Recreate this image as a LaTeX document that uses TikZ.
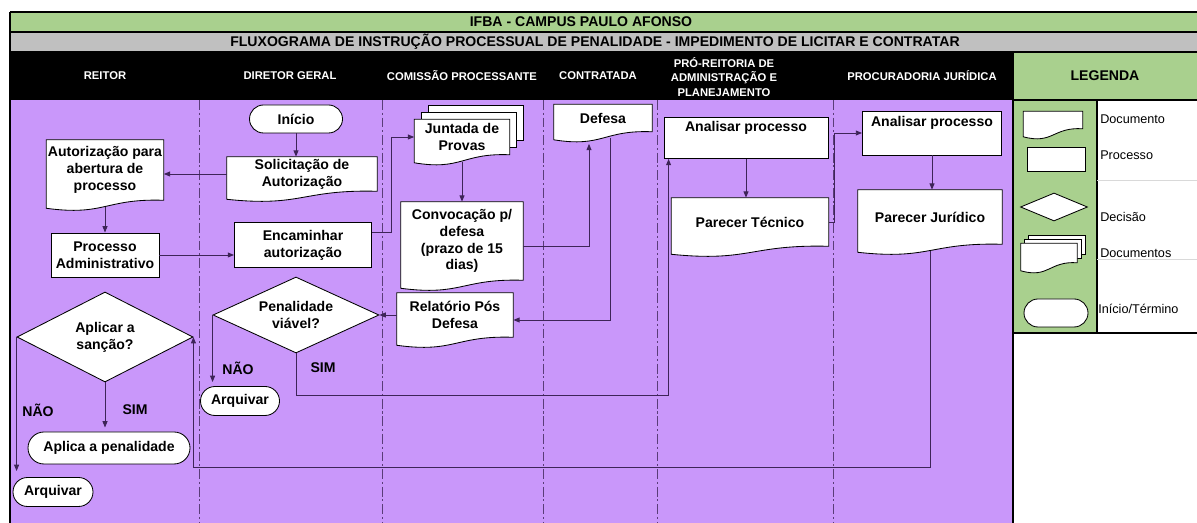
\documentclass[tikz,border=0pt]{standalone}
\usepackage{fontspec}
\setmainfont{Liberation Sans}
\usetikzlibrary{shapes.geometric,shapes.misc,arrows.meta,calc}

\definecolor{lanefill}{RGB}{201,151,250}
\definecolor{headgreen}{RGB}{169,208,142}
\definecolor{headgray}{RGB}{192,192,192}
\definecolor{flowline}{RGB}{62,36,88}
\definecolor{laneline}{RGB}{90,60,120}

\newlength\pxlen
\setlength\pxlen{0.025cm}

\pgfdeclarelayer{back}
\pgfdeclarelayer{shapes}
\pgfsetlayers{back,shapes,main}

\tikzset{
	boxline/.style={draw=black, fill=white, line width=0.6pt},
	txt/.style={font=\bfseries, align=center, inner sep=0pt},
	docbox/.style 2 args={txt, minimum width=#1*\pxlen, minimum height=#2*\pxlen},
	procbox/.style 2 args={txt, boxline, minimum width=#1*\pxlen, minimum height=#2*\pxlen},
	termbox/.style 2 args={txt, boxline, rounded rectangle, minimum width=#1*\pxlen, minimum height=#2*\pxlen},
	decbox/.style 2 args={txt, boxline, diamond, aspect=2, minimum width=#1*\pxlen, minimum height=#2*\pxlen},
	flow/.style={draw=flowline, line width=0.7pt, -{Triangle[length=4.5pt,width=3.5pt]}},
	lane/.style={draw=laneline, line width=0.7pt, dash pattern=on 7pt off 2pt on 1.5pt off 2pt},
	lanehead/.style={text=white, font=\fontsize{8}{10.5}\selectfont\bfseries, align=center},
	choice/.style={font=\bfseries},
	legtext/.style={anchor=west, font=\fontsize{9}{11}\selectfont, inner sep=0pt}
}

% document outline with wavy bottom, drawn round a node
\newcommand{\docoutline}[1]{%
	\draw[boxline] (#1.north west) -- (#1.north east) -- (#1.south east)
		.. controls ($(#1.south)+(0,-2)$) and ($(#1.south)+(0,16)$) .. ($(#1.south west)+(0,8)$) -- cycle;}
% the sheets behind a multi-document node
\newcommand{\sheets}[2]{%
	\draw[boxline] ($(#1.north west)+(2*#2,-2*#2)$) rectangle ($(#1.south east)+(2*#2,-2*#2)$);
	\draw[boxline] ($(#1.north west)+(#2,-#2)$) rectangle ($(#1.south east)+(#2,-#2)$);}

\begin{document}
\begin{tikzpicture}[x=0.025cm, y=-0.025cm]
	\useasboundingbox (0,0) rectangle (1197,523);

	\begin{pgfonlayer}{back}
		\fill[headgreen] (10,12) rectangle (1197,32);
		\fill[headgray] (10,32) rectangle (1197,52);
		\fill[black] (10,52) rectangle (1013,100);
		\fill[headgreen] (1013,52) rectangle (1197,100);
		\fill[lanefill] (10,100) rectangle (1013,523);
		\fill[headgreen] (1013,100) rectangle (1097,333);
		\foreach \x in {199,382,543,657,833}
			\draw[lane] (\x,100) -- (\x,523);
		\draw[line width=1.4pt] (10,12) -- (1197,12) (10,32) -- (1197,32) (10,52) -- (1197,52) (10,12) -- (10,523);
		\draw[line width=1.4pt] (1013,52) -- (1013,523) (1013,100) -- (1197,100) (1097,100) -- (1097,333) (1013,333) -- (1197,333);
		\draw[black!15] (1097,180) -- (1197,180) (1097,259) -- (1197,259);
	\end{pgfonlayer}

	%titles
	\node[font=\bfseries] (campus) at (581,22) {IFBA - CAMPUS PAULO AFONSO};
	\node[font=\bfseries] (titulo) at (595,42) {FLUXOGRAMA DE INSTRUÇÃO PROCESSUAL DE PENALIDADE - IMPEDIMENTO DE LICITAR E CONTRATAR};
	\node[lanehead] (hreitor) at (105,76) {REITOR};
	\node[lanehead] (hdiretor) at (290,76) {DIRETOR GERAL};
	\node[lanehead] (hcomissao) at (462,76) {COMISSÃO PROCESSANTE};
	\node[lanehead] (hcontratada) at (598,76) {CONTRATADA};
	\node[lanehead] (hproreit) at (724,77) {PRÓ-REITORIA DE\\ADMINISTRAÇÃO E\\PLANEJAMENTO};
	\node[lanehead] (hprocur) at (922,76) {PROCURADORIA JURÍDICA};
	\node[font=\bfseries] (hlegenda) at (1105,76) {LEGENDA};

	%reitor
	\node[docbox={117}{60}] (autab) at (105,170) {Autorização para\\abertura de\\processo};
	\node[procbox={108}{44}] (procadm) at (105,255) {Processo\\Administrativo};
	\node[decbox={176}{90}] (aplicar) at (105,337) {Aplicar a\\sanção?};
	\node[termbox={162}{32}] (aplica) at (109,448) {Aplica a penalidade};
	\node[termbox={80}{29}] (arqR) at (53,492) {Arquivar};

	%diretor geral
	\node[termbox={93}{28}] (ini) at (296,119) {Início};
	\node[docbox={150}{34}] (sol) at (302,174) {Solicitação de\\Autorização};
	\node[procbox={137}{45}] (enc) at (303,245) {Encaminhar\\autorização};
	\node[decbox={166}{76}] (penal) at (296,315) {Penalidade\\viável?};
	\node[termbox={79}{29}] (arqD) at (240,401) {Arquivar};

	%comissao, contratada
	\node[docbox={95}{35}] (jun) at (462,137) {Juntada de\\Provas};
	\node[docbox={122}{78}] (conv) at (462,241) {Convocação p/\\defesa\\(prazo de 15\\dias)};
	\node[docbox={116}{44}] (rel) at (455,315) {Relatório Pós\\Defesa};
	\node[docbox={98}{27}] (def) at (603,118) {Defesa};

	%pro-reitoria, procuradoria
	\node[procbox={164}{41}, text depth=16pt] (analP) at (746,138) {Analisar processo};
	\node[docbox={157}{48}] (parT) at (750,222) {Parecer Técnico};
	\node[procbox={139}{44}, text depth=16pt] (analJ) at (932,133) {Analisar processo};
	\node[docbox={144}{54}] (parJ) at (930,217) {Parecer Jurídico};

	%legend
	\node[docbox={59}{17}] (lgdoc) at (1053,120) {};
	\node[procbox={58}{24}] (lgproc) at (1056,159) {};
	\node[decbox={67}{28}] (lgdec) at (1054,207) {};
	\node[docbox={56}{19}] (lgmulti) at (1049,253) {};
	\node[termbox={64}{28}] (lgterm) at (1056,313) {};
	\node[legtext] (tdoc) at (1100,119) {Documento};
	\node[legtext] (tproc) at (1100,155) {Processo};
	\node[legtext] (tdec) at (1100,217) {Decisão};
	\node[legtext] (tmulti) at (1100,253) {Documentos};
	\node[legtext] (tterm) at (1098,309) {Início/Término};

	\begin{pgfonlayer}{shapes}
		\sheets{jun}{7}
		\sheets{lgmulti}{4}
		\foreach \n in {autab,sol,jun,conv,rel,def,parT,parJ,lgdoc,lgmulti}{
			\docoutline{\n}
		}
	\end{pgfonlayer}

	%labels
	\node[choice] (naoR) at (38,410) {NÃO};
	\node[choice] (simR) at (135,410) {SIM};
	\node[choice] (naoD) at (238,368) {NÃO};
	\node[choice] (simD) at (323,368) {SIM};

	%flow
	\draw[flow] (ini.south) -- (ini.south |- sol.north);
	\draw[flow] (sol.west) -- (sol.west -| autab.east);
	\draw[flow] ($(autab.south)+(0,7)$) -- (procadm.north);
	\draw[flow] (procadm.east) -- (procadm.east -| enc.west);
	\draw[flow] ($(enc.east)+(0,-13)$) -- ++(20,0) |- (jun.west);
	\draw[flow] ($(jun.south)+(0,7)$) -- (conv.north);
	\draw[flow] ($(conv.east)+(0,5)$) -| ($(def.south)+(-14,12)$);
	\draw[flow] ($(def.south)+(7,6)$) |- ($(rel.east)+(0,5)$);
	\draw[flow] (rel.west) -- (penal.east);
	\draw[flow] (penal.west) -- ($(penal.west |- arqD.north)+(0,-4)$);
	\draw[flow] (penal.south) -- ++(0,42) -| ($(analP.south west)+(5,0)$);
	\draw[flow] (analP.south) -- (analP.south |- parT.north);
	\draw[flow] (parT.east) -- ++(6,0) |- (analJ.west);
	\draw[flow] (analJ.south) -- (analJ.south |- parJ.north);
	\draw[flow] ($(parJ.south)+(0,7)$) |- ($(aplicar.east)+(0,130)$) -- (aplicar.east);
	\draw[flow] (aplicar.south) -- ($(aplicar.south |- aplica.north)+(0,-4)$);
	\draw[flow] (aplicar.west) -- ($(aplicar.west |- arqR.north)+(0,-6)$);
\end{tikzpicture}
\end{document}
